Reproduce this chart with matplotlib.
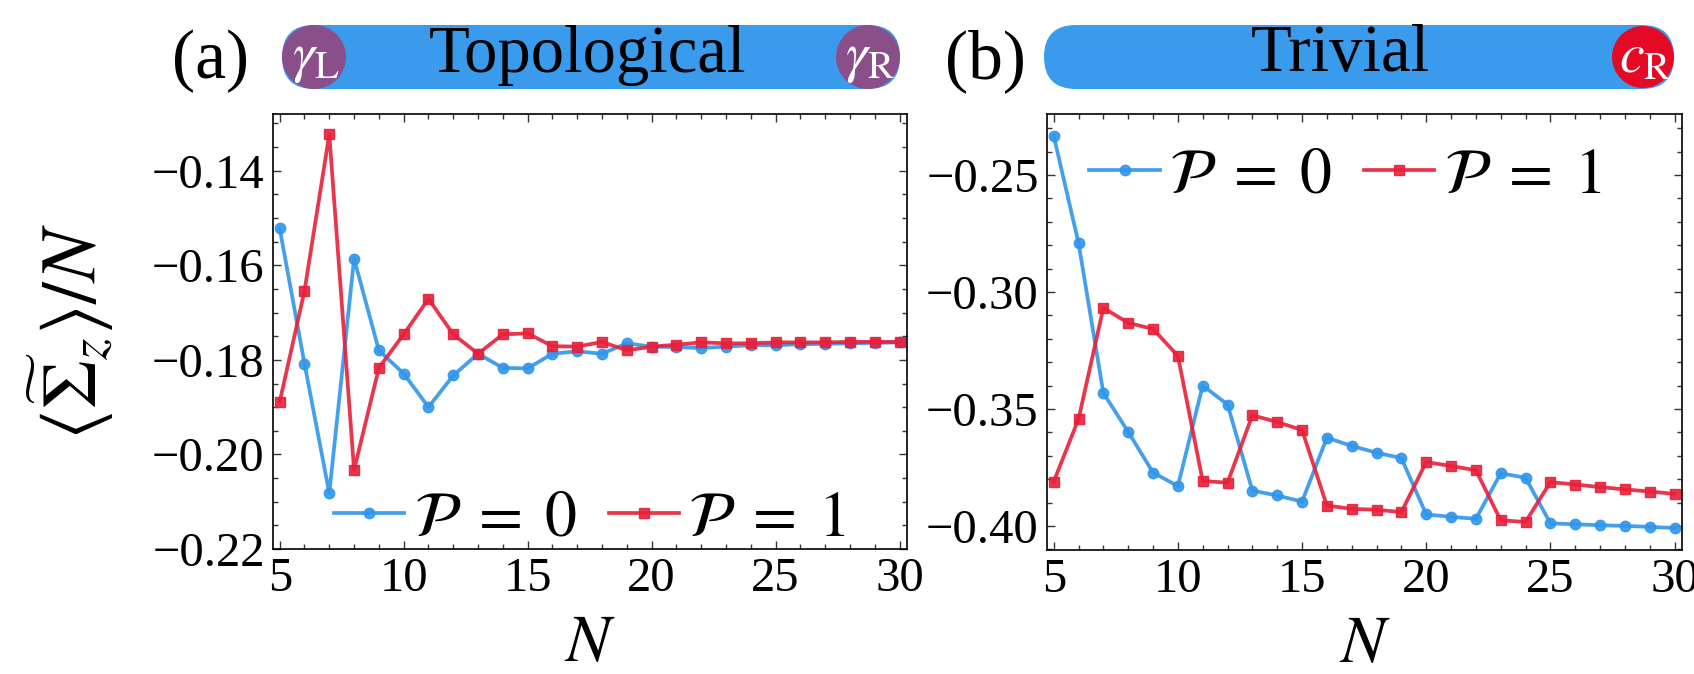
import matplotlib
matplotlib.use('Agg')
import matplotlib.pyplot as plt
import numpy as np
from matplotlib.patches import FancyBboxPatch, Circle
from matplotlib.transforms import Affine2D
from matplotlib.ticker import MultipleLocator, FuncFormatter

plt.rcParams['font.family'] = ['Liberation Serif', 'DejaVu Serif']
plt.rcParams['mathtext.fontset'] = 'stix'

# data
N = np.arange(5, 31)

topo_p0 = [-0.1522, -0.1808, -0.2082, -0.1586, -0.1780, -0.1829, -0.1900, -0.1833,
           -0.1787, -0.1817, -0.1818, -0.1787, -0.1782, -0.1787, -0.1765, -0.1772,
           -0.1773, -0.1775, -0.1772, -0.1769, -0.1769, -0.1767, -0.1766, -0.1765,
           -0.1764, -0.1763]
topo_p1 = [-0.1889, -0.1654, -0.1323, -0.2033, -0.1817, -0.1746, -0.1671, -0.1746,
           -0.1787, -0.1746, -0.1744, -0.1771, -0.1772, -0.1762, -0.1780, -0.1772,
           -0.1768, -0.1763, -0.1765, -0.1765, -0.1763, -0.1763, -0.1763, -0.1762,
           -0.1762, -0.1762]

triv_p0 = [-0.2332, -0.2791, -0.3432, -0.3598, -0.3772, -0.3830, -0.3400, -0.3481,
           -0.3849, -0.3870, -0.3896, -0.3623, -0.3658, -0.3687, -0.3710, -0.3951,
           -0.3961, -0.3970, -0.3775, -0.3794, -0.3989, -0.3993, -0.3997, -0.4000,
           -0.4004, -0.4009]
triv_p1 = [-0.3811, -0.3543, -0.3068, -0.3132, -0.3158, -0.3273, -0.3808, -0.3815,
           -0.3527, -0.3556, -0.3590, -0.3913, -0.3927, -0.3931, -0.3941, -0.3727,
           -0.3744, -0.3762, -0.3976, -0.3983, -0.3813, -0.3823, -0.3834, -0.3844,
           -0.3853, -0.3863]

BLUE = '#2f96ec'
RED = '#e8203a'

W, H = 1694, 674
fig = plt.figure(figsize=(W / 100, H / 100), dpi=100)
px = Affine2D().scale(1.0 / W, 1.0 / H) + fig.transFigure

ax1 = fig.add_axes([273 / W, 1 - 549 / H, 634 / W, 435 / H])
ax2 = fig.add_axes([1047 / W, 1 - 550 / H, 635 / W, 436 / H])

minus_fmt = FuncFormatter(lambda v, pos: ('%.2f' % v).replace('-', '\u2212'))


def style_axis(ax, ymajor, yminor):
    ax.xaxis.set_major_locator(MultipleLocator(5))
    ax.xaxis.set_minor_locator(MultipleLocator(1))
    ax.yaxis.set_major_locator(MultipleLocator(ymajor))
    ax.yaxis.set_minor_locator(MultipleLocator(yminor))
    ax.yaxis.set_major_formatter(minus_fmt)
    ax.tick_params(which='both', direction='in', top=True, right=True,
                   labelsize=35, width=1.0, color='#333333')
    ax.tick_params(which='major', length=6, pad=6)
    ax.tick_params(which='minor', length=3.5)
    for s in ax.spines.values():
        s.set_linewidth(1.2)
    ax.set_xlim(4.73, 30.3)
    ax.set_xlabel(r'$N$', fontsize=48, labelpad=9)


def draw(ax, p0, p1):
    ax.plot(N, p0, '-o', color=BLUE, lw=2.7, ms=7.5, alpha=0.9,
            label=r'$\mathcal{P}\;=\;0$')
    ax.plot(N, p1, '-s', color=RED, lw=2.7, ms=7.5, alpha=0.9,
            label=r'$\mathcal{P}\;=\;1$')


leg_kw = dict(ncol=2, frameon=False, fontsize=46, handlelength=1.1,
              handletextpad=0.15, columnspacing=0.5, borderaxespad=0.2)

draw(ax1, topo_p0, topo_p1)
style_axis(ax1, 0.02, 0.005)
ax1.set_ylim(-0.22, -0.128)
ax1.set_ylabel(r'$\langle\widetilde{\Sigma}_z\rangle/N$', fontsize=56, labelpad=26)
ax1.legend(loc='lower center', bbox_to_anchor=(0.5, -0.09), **leg_kw)

draw(ax2, triv_p0, triv_p1)
style_axis(ax2, 0.05, 0.01)
ax2.set_ylim(-0.4103, -0.2239)
ax2.legend(loc='upper center', bbox_to_anchor=(0.47, 1.01), **leg_kw)

# banners above the panels
bar_blue = '#3a9aec'
purple = '#8a4f8a'
red_c = '#e40a25'
yc = H - 57
r = 32

fig.patches.append(FancyBboxPatch((282, yc - r), 618, 2 * r,
                                  boxstyle='round,pad=0,rounding_size=32',
                                  fc=bar_blue, ec='none', transform=px))
fig.patches.append(Circle((314, yc), r, fc=purple, ec='none', transform=px))
fig.patches.append(Circle((868, yc), r, fc=purple, ec='none', transform=px))
fig.text(588 / W, (yc + 2) / H, 'Topological', fontsize=48, ha='center', va='center')
fig.text(316 / W, (yc - 2) / H, r'$\gamma_{\rm L}$', fontsize=40, color='white',
         ha='center', va='center')
fig.text(870 / W, (yc - 2) / H, r'$\gamma_{\rm R}$', fontsize=40, color='white',
         ha='center', va='center')
fig.text(210 / W, (yc - 4) / H, '(a)', fontsize=50, ha='center', va='center')

fig.patches.append(FancyBboxPatch((1044, yc - r), 630, 2 * r,
                                  boxstyle='round,pad=0,rounding_size=32',
                                  fc=bar_blue, ec='none', transform=px))
fig.patches.append(Circle((1643, yc), 31, fc=red_c, ec='none', transform=px))
fig.text(1340 / W, (yc + 2) / H, 'Trivial', fontsize=48, ha='center', va='center')
fig.text(1645 / W, (yc - 2) / H, r'$c_{\rm R}$', fontsize=40, color='white',
         ha='center', va='center')
fig.text(985 / W, (yc - 4) / H, '(b)', fontsize=50, ha='center', va='center')

fig.savefig('out.png', dpi=100)
